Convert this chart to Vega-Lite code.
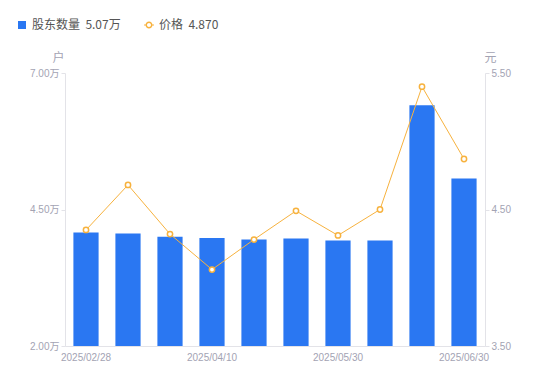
{
  "$schema": "https://vega.github.io/schema/vega-lite/v6.json",
  "autosize": {"type": "none"},
  "padding": {"left": 65, "top": 73, "right": 65, "bottom": 35},
  "width": 420,
  "height": 273,
  "background": "#ffffff",
  "config": {
    "font": "Liberation Sans, Noto Sans CJK SC, sans-serif",
    "view": {"stroke": null},
    "axis": {"domainColor": "#e3e3e8", "tickColor": "#e3e3e8", "labelColor": "#a3a3b3", "labelFontSize": 10, "titleColor": "#a3a3b3", "titleFontWeight": "normal", "titleFontSize": 12, "grid": false}
  },
  "data": {
    "values": [
      {"date": "2025/02/28", "holders": 4.08, "price": 4.35},
      {"date": "2025/03/10", "holders": 4.06, "price": 4.68},
      {"date": "2025/03/31", "holders": 4.00, "price": 4.32},
      {"date": "2025/04/10", "holders": 3.98, "price": 4.06},
      {"date": "2025/04/30", "holders": 3.95, "price": 4.28},
      {"date": "2025/05/20", "holders": 3.97, "price": 4.49},
      {"date": "2025/05/30", "holders": 3.93, "price": 4.31},
      {"date": "2025/06/10", "holders": 3.93, "price": 4.50},
      {"date": "2025/06/20", "holders": 6.41, "price": 5.40},
      {"date": "2025/06/30", "holders": 5.07, "price": 4.87}
    ]
  },
  "encoding": {
    "x": {
      "field": "date",
      "type": "ordinal",
      "sort": null,
      "scale": {"paddingInner": 0.4, "paddingOuter": 0.2},
      "axis": {"title": null, "labelAngle": 0, "ticks": false, "values": ["2025/02/28", "2025/04/10", "2025/05/30", "2025/06/30"], "labelPadding": 6, "domainColor": "#e3e3e8"}
    }
  },
  "layer": [
    {
      "mark": {"type": "bar", "color": "#2a77f2"},
      "transform": [{"calculate": "'股东数量'", "as": "series"}],
      "encoding": {
        "y": {
          "field": "holders",
          "type": "quantitative",
          "scale": {"domain": [2, 7], "zero": false, "nice": false},
          "axis": {"title": "户", "titleAngle": 0, "titleX": -7, "titleY": -16, "titleAlign": "center", "titleBaseline": "middle", "values": [2, 4.5, 7], "labelExpr": "format(datum.value, '.2f') + '万'", "tickSize": 4, "labelPadding": 2, "domainColor": "#e3e3e8"}
        },
        "y2": {"datum": 2},
        "color": {
          "field": "series",
          "type": "nominal",
          "scale": {"domain": ["股东数量", "价格"], "range": ["#2a77f2", "#f7b23e"]},
          "legend": {
            "title": null,
            "orient": "none",
            "legendX": -49,
            "legendY": -54,
            "direction": "horizontal",
            "columnPadding": 22,
            "labelFontSize": 12,
            "labelColor": "#555555",
            "labelOffset": 4,
            "labelExpr": "datum.label === '股东数量' ? '股东数量\u00a0\u00a05.07万' : '价格\u00a0\u00a04.870'",
            "labelFont": "Noto Sans CJK SC",
            "symbolSize": 64,
            "symbolStrokeWidth": 0,
            "encode": {
              "symbols": {
                "update": {
                  "shape": {"signal": "datum.value === '价格' ? 'M0.7,0A0.7,0.7 0 1 1 -0.7,0A0.7,0.7 0 1 1 0.7,0ZM0.4,0A0.4,0.4 0 1 0 -0.4,0A0.4,0.4 0 1 0 0.4,0ZM-1,-0.11L-0.68,-0.11L-0.68,0.11L-1,0.11ZM0.68,-0.11L1,-0.11L1,0.11L0.68,0.11Z' : 'square'"},
                  "strokeWidth": {"value": 0},
                  "size": {"signal": "datum.value === '价格' ? 100 : 64"}
                }
              }
            }
          }
        }
      }
    },
    {
      "mark": {"type": "line", "color": "#f7b23e", "strokeWidth": 1},
      "encoding": {
        "y": {"field": "price", "type": "quantitative", "scale": {"domain": [3.5, 5.5], "zero": false, "nice": false}, "axis": null}
      }
    },
    {
      "mark": {"type": "point", "shape": "circle", "filled": true, "fill": "#ffffff", "stroke": "#f7b23e", "strokeWidth": 1.5, "size": 28, "opacity": 1},
      "encoding": {
        "y": {
          "field": "price",
          "type": "quantitative",
          "scale": {"domain": [3.5, 5.5], "zero": false, "nice": false},
          "axis": {"orient": "right", "title": "元", "titleAngle": 0, "titleX": 5, "titleY": -16, "titleAlign": "center", "titleBaseline": "middle", "values": [3.5, 4.5, 5.5], "format": ".2f", "tickSize": 4, "labelPadding": 2, "domainColor": "#e3e3e8"}
        }
      }
    }
  ],
  "resolve": {"scale": {"y": "independent"}, "axis": {"y": "independent"}}
}
